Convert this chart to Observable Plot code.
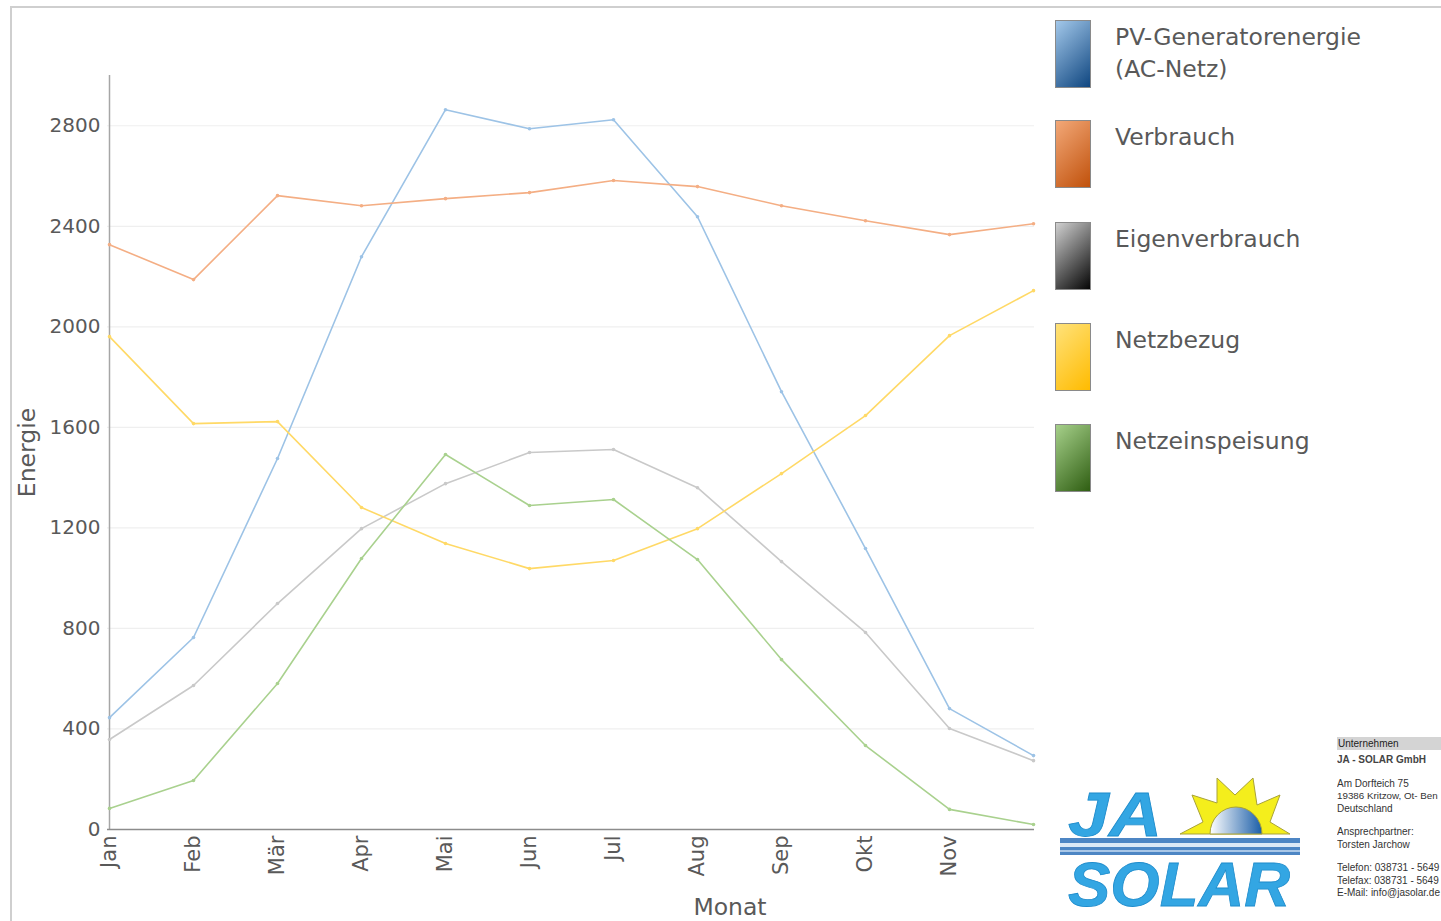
<!DOCTYPE html>
<html>
<head>
<meta charset="utf-8">
<script src="https://cdn.jsdelivr.net/npm/d3@7"></script>
<script src="https://cdn.jsdelivr.net/npm/@observablehq/plot@0.6"></script>
<style>
  html, body { margin: 0; padding: 0; background: #fff; }
  #page { position: relative; width: 1441px; height: 921px; overflow: hidden; font-family: "DejaVu Sans", Verdana, sans-serif; color: #595959; }
  #chart { position: absolute; left: 0; top: 0; }
  .frameTop { position: absolute; left: 11px; top: 6px; width: 1430px; height: 0; border-top: 2px solid #cfcfcf; }
  .frameLeft { position: absolute; left: 10px; top: 6px; width: 0; height: 915px; border-left: 2px solid #cfcfcf; }
  .sw { position: absolute; left: 1055px; width: 34px; height: 66px; border: 1px solid #8a8a8a; }
  .lab { position: absolute; left: 1115px; font-size: 23.5px; line-height: 32px; color: #595959; white-space: nowrap; }
  #info { position: absolute; left: 1337px; top: 737px; width: 104px; font-family: "Liberation Sans", Arial, sans-serif; font-size: 10px; color: #333; white-space: nowrap; overflow: hidden; line-height: 12.5px; }
  #info .hd { background: #d4d4d4; height: 13px; line-height: 13px; padding-left: 1px; color: #222; }
  #info .b { font-weight: bold; color: #444; margin-top: 4px; }
  #info .gap { height: 11px; }
  #info .tight { font-size: 9.8px; }
  #logo { position: absolute; left: 0; top: 0; }
</style>
</head>
<body>
<div id="page">
  <div id="chart"></div>
  <div class="frameTop"></div>
  <div class="frameLeft"></div>
  <div id="legend"></div>
  <svg id="logo" width="1441" height="921" style="pointer-events:none">
    <defs>
      <linearGradient id="dome" x1="0" y1="0" x2="1" y2="0">
        <stop offset="0" stop-color="#ffffff"/>
        <stop offset="1" stop-color="#1b5ea8"/>
      </linearGradient>
    </defs>
    <polygon points="1180,834 1203,822 1192,795 1217,803 1217,778 1235,795 1253,778 1257,805 1280,795 1270,822 1290,834" fill="#f4ee1c" stroke="#a8a23a" stroke-width="1"/>
    <path d="M1210,834 A26,27 0 0 1 1262,834 Z" fill="url(#dome)" stroke="#a8a23a" stroke-width="1"/>
    <rect x="1060" y="838" width="240" height="17" fill="#4d86c4"/>
    <rect x="1060" y="843" width="240" height="4" fill="#dce9f6"/>
    <rect x="1060" y="850" width="240" height="2" fill="#a9c7e7"/>
    <text x="1068" y="836" font-family="Liberation Sans" font-weight="bold" font-style="italic" font-size="63" fill="#33a6e3" stroke="#1f8ccc" stroke-width="0.8" textLength="94" lengthAdjust="spacingAndGlyphs">JA</text>
    <text x="1068" y="906" font-family="Liberation Sans" font-weight="bold" font-style="italic" font-size="63" fill="#33a6e3" stroke="#1f8ccc" stroke-width="0.8" textLength="222" lengthAdjust="spacingAndGlyphs">SOLAR</text>
  </svg>
  <div id="info">
    <div class="hd">Unternehmen</div>
    <div class="b">JA - SOLAR GmbH</div>
    <div class="gap"></div>
    <div>Am Dorfteich 75</div>
    <div class="tight">19386 Kritzow, Ot- Ben</div>
    <div>Deutschland</div>
    <div class="gap"></div>
    <div>Ansprechpartner:</div>
    <div>Torsten Jarchow</div>
    <div class="gap"></div>
    <div>Telefon: 038731 - 5649</div>
    <div>Telefax: 038731 - 5649</div>
    <div>E-Mail: info@jasolar.de</div>
  </div>
</div>
<script>
const months = ["Jan", "Feb", "Mär", "Apr", "Mai", "Jun", "Jul", "Aug", "Sep", "Okt", "Nov", "Dez"];
const xTickLabels = ["Jan", "Feb", "Mär", "Apr", "Mai", "Jun", "Jul", "Aug", "Sep", "Okt", "Nov"];
const yTicks = [0, 400, 800, 1200, 1600, 2000, 2400, 2800];

const seriesNames = ["PV-Generatorenergie (AC-Netz)", "Verbrauch", "Eigenverbrauch", "Netzbezug", "Netzeinspeisung"];
const lineColors = ["#9dc3e6", "#f4ae84", "#c9c9c9", "#ffd966", "#a9d18e"];

const pvGenerator = [445, 764, 1476, 2279, 2864, 2788, 2824, 2438, 1742, 1118, 481, 294];
const verbrauch = [2327, 2188, 2522, 2482, 2510, 2534, 2582, 2558, 2482, 2422, 2367, 2410];
const eigenverbrauch = [358, 573, 899, 1197, 1376, 1500, 1512, 1360, 1066, 784, 402, 274];
const netzbezug = [1961, 1615, 1623, 1281, 1138, 1038, 1070, 1197, 1416, 1647, 1965, 2144];
const netzeinspeisung = [84, 195, 581, 1078, 1492, 1289, 1313, 1074, 676, 334, 80, 20];

const seriesValues = [pvGenerator, verbrauch, eigenverbrauch, netzbezug, netzeinspeisung];

const data = [];
seriesNames.forEach((name, i) => {
  seriesValues[i].forEach((v, j) => data.push({series: name, month: months[j], value: v}));
});

const chart = Plot.plot({
  width: 1040,
  height: 921,
  marginLeft: 107,
  marginRight: 6,
  marginTop: 75,
  marginBottom: 92,
  style: {background: "transparent", color: "#595959", fontFamily: "DejaVu Sans, Verdana, sans-serif"},
  x: {type: "point", domain: months, padding: 0},
  y: {domain: [0, 3000]},
  color: {domain: seriesNames, range: lineColors},
  marks: [
    Plot.ruleY(yTicks.filter(d => d > 0), {stroke: "#efefef", strokeWidth: 1.2}),
    Plot.ruleX([months[0]], {stroke: "#a6a6a6", strokeWidth: 1.5}),
    Plot.ruleY([0], {stroke: "#8c8c8c", strokeWidth: 1.5}),
    Plot.axisY({ticks: yTicks, tickSize: 0, tickPadding: 7, fontSize: 20, tickFormat: d => String(d), label: null}),
    Plot.axisX({ticks: xTickLabels, tickSize: 0, tickPadding: 6, tickRotate: -90, fontSize: 21, label: null}),
    Plot.line(data, {x: "month", y: "value", z: "series", stroke: "series", strokeWidth: 1.6}),
    Plot.dot(data, {x: "month", y: "value", fill: "series", r: 1.8}),
    Plot.text(["Energie"], {text: d => d, frameAnchor: "left", textAnchor: "middle", lineAnchor: "middle", dx: -80, rotate: -90, fontSize: 23.5, fill: "#595959"}),
    Plot.text(["Monat"], {text: d => d, frameAnchor: "bottom", textAnchor: "middle", lineAnchor: "middle", dx: 159, dy: 78, fontSize: 23.5, fill: "#595959"})
  ]
});
document.getElementById("chart").appendChild(chart);

// Legend (HTML, drawn from the same names and a gradient per series)
const legendLabels = [["PV-Generatorenergie", "(AC-Netz)"], ["Verbrauch"], ["Eigenverbrauch"], ["Netzbezug"], ["Netzeinspeisung"]];
const swatchGradients = [
  ["#a3c8ea", "#0f4680"],
  ["#f2a878", "#c0510b"],
  ["#d0d0d0", "#050505"],
  ["#ffe27a", "#ffbb00"],
  ["#a6d08a", "#2f5e12"]
];
const legendTops = [20, 120, 222, 323, 424];
const legend = document.getElementById("legend");
legendLabels.forEach((lines, i) => {
  const sw = document.createElement("div");
  sw.className = "sw";
  sw.style.top = legendTops[i] + "px";
  sw.style.background = `linear-gradient(135deg, ${swatchGradients[i][0]}, ${swatchGradients[i][1]})`;
  legend.appendChild(sw);
  const lab = document.createElement("div");
  lab.className = "lab";
  lab.style.top = (legendTops[i] + 1) + "px";
  lab.innerHTML = lines.join("<br>");
  legend.appendChild(lab);
});
</script>
</body>
</html>
